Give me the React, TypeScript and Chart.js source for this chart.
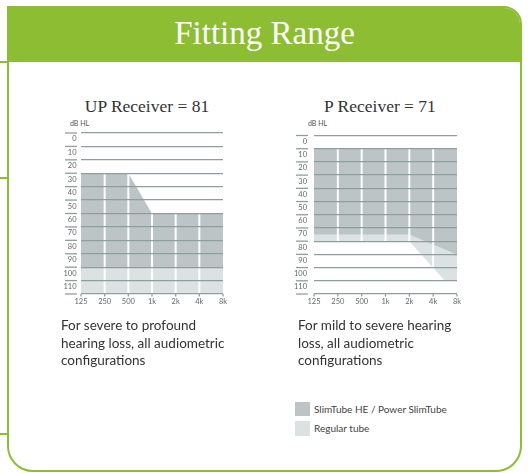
import React, { useEffect, useRef } from 'react';
import { Chart, registerables } from 'chart.js';

Chart.register(...registerables);

// ---------- data ----------
const freqs = [125, 250, 500, 1000, 2000, 4000, 8000];
const freqLabels = ['125', '250', '500', '1k', '2k', '4k', '8k'];
const dbTicks = [0, 10, 20, 30, 40, 50, 60, 70, 80, 90, 100, 110, 120];
const dbLabels = ['0', '10', '20', '30', '40', '50', '60', '70', '80', '90', '100', '110', ''];

// UP Receiver = 81
const upSlimTop = [30, 30, 30, 60, 60, 60, 60];
const upSlimBottom = 100;
const upRegularBottom = 120;

// P Receiver = 71
const pTop = 10;
const pSlimFreqs = [125, 250, 500, 1000, 2000, 8000];
const pSlimBottom = [75, 75, 75, 75, 75, 90];
const pRegFreqs = [125, 250, 500, 1000, 2000, 5600, 8000];
const pRegBottom = [80, 80, 80, 80, 80, 110, 110];

// ---------- styles ----------
const GREEN = '#8cbd32';
const DARK = '#bcc4c5';
const LIGHT = '#dce2e2';
const GRID = '#8e9e9e';
const AXIS_TXT = '#666';
const SANS = 'Lato, "Open Sans", sans-serif';
const SERIF = '"Liberation Serif", "DejaVu Serif", serif';

const decoPlugin = {
  id: 'deco',
  afterDatasetsDraw(chart: any) {
    const { ctx, chartArea, scales } = chart;
    const x = scales.x;
    ctx.save();
    ctx.globalCompositeOperation = 'source-atop';
    ctx.strokeStyle = '#ffffff';
    ctx.lineWidth = 2;
    freqs.slice(1, -1).forEach((f) => {
      const px = x.getPixelForValue(f);
      ctx.beginPath();
      ctx.moveTo(px, chartArea.top);
      ctx.lineTo(px, chartArea.bottom);
      ctx.stroke();
    });
    ctx.restore();
  },
  afterDraw(chart: any, _args: any, opts: any) {
    const { ctx, chartArea, scales } = chart;
    const x = scales.x;
    const y = scales.y;
    ctx.save();
    ctx.strokeStyle = GRID;
    ctx.lineWidth = 1.3;
    dbTicks.forEach((v) => {
      const py = y.getPixelForValue(v);
      ctx.beginPath();
      ctx.moveTo(chartArea.left - opts.segFrom, py);
      ctx.lineTo(chartArea.left - opts.segTo, py);
      ctx.stroke();
    });
    freqs.forEach((f) => {
      const px = x.getPixelForValue(f);
      ctx.beginPath();
      ctx.moveTo(px, chartArea.bottom);
      ctx.lineTo(px, chartArea.bottom + 2.5);
      ctx.stroke();
    });
    ctx.restore();
  },
};

type AudiogramProps = {
  datasets: any[];
  left: number;
  top: number;
  width: number;
  height: number;
  labelPad: number;
  segFrom: number;
  segTo: number;
};

function Audiogram({ datasets, left, top, width, height, labelPad, segFrom, segTo }: AudiogramProps) {
  const ref = useRef<HTMLCanvasElement | null>(null);
  useEffect(() => {
    if (!ref.current) return;
    const chart = new Chart(ref.current, {
      type: 'line',
      data: { datasets },
      options: {
        animation: false,
        responsive: false,
        maintainAspectRatio: false,
        devicePixelRatio: 1,
        layout: { padding: { left: 0, right: 9, top: 8, bottom: 14 } },
        elements: { point: { radius: 0 }, line: { borderWidth: 0, tension: 0 } },
        plugins: {
          legend: { display: false },
          tooltip: { enabled: false },
          deco: { segFrom, segTo },
        } as any,
        scales: {
          x: {
            type: 'logarithmic',
            min: 125,
            max: 8000,
            afterBuildTicks: (s: any) => {
              s.ticks = freqs.map((v) => ({ value: v }));
            },
            afterFit: (s: any) => {
              s.height = 16;
            },
            ticks: {
              autoSkip: false,
              maxRotation: 0,
              minRotation: 0,
              padding: 3,
              color: AXIS_TXT,
              font: { family: SANS, size: 7.5 },
              callback: (v: any) => {
                const i = freqs.indexOf(Number(v));
                return i >= 0 ? freqLabels[i] : '';
              },
            },
            grid: { display: false, drawTicks: false },
            border: { display: false },
          },
          y: {
            type: 'linear',
            reverse: true,
            min: 0,
            max: 120,
            afterBuildTicks: (s: any) => {
              s.ticks = dbTicks.map((v) => ({ value: v }));
            },
            afterFit: (s: any) => {
              s.width = 24;
            },
            ticks: {
              autoSkip: false,
              labelOffset: 6,
              padding: labelPad,
              color: AXIS_TXT,
              font: { family: SANS, size: 7.5 },
              callback: (v: any) => {
                const i = dbTicks.indexOf(Number(v));
                return i >= 0 ? dbLabels[i] : '';
              },
            },
            grid: { color: GRID, lineWidth: 1.3, drawTicks: false, z: 1 },
            border: { display: false },
          },
        } as any,
      },
      plugins: [decoPlugin as any],
    });
    return () => chart.destroy();
  }, []);
  return (
    <canvas
      ref={ref}
      width={width}
      height={height}
      style={{ position: 'absolute', left, top, width, height }}
    />
  );
}

const upDatasets = [
  {
    label: 'SlimTube HE / Power SlimTube',
    data: freqs.map((f, i) => ({ x: f, y: upSlimTop[i] })),
    backgroundColor: DARK,
    borderWidth: 0,
    fill: { value: upSlimBottom },
  },
  {
    label: 'Regular tube',
    data: freqs.map((f) => ({ x: f, y: upSlimBottom })),
    backgroundColor: LIGHT,
    borderWidth: 0,
    fill: { value: upRegularBottom },
  },
];

const pDatasets = [
  {
    label: 'SlimTube HE / Power SlimTube',
    data: pSlimFreqs.map((f, i) => ({ x: f, y: pSlimBottom[i] })),
    backgroundColor: DARK,
    borderWidth: 0,
    fill: { value: pTop },
  },
  {
    label: 'Regular tube',
    data: pRegFreqs.map((f, i) => ({ x: f, y: pRegBottom[i] })),
    backgroundColor: LIGHT,
    borderWidth: 0,
    fill: { value: pTop },
  },
];

const abs = (extra: React.CSSProperties): React.CSSProperties => ({ position: 'absolute', ...extra });

export default function App() {
  return (
    <div
      style={abs({
        left: 0,
        top: 0,
        width: 529,
        height: 473,
        background: '#fff',
        overflow: 'hidden',
        fontFamily: SANS,
        color: '#333',
      })}
    >
      {[62, 178, 434].map((y) => (
        <div key={y} style={abs({ left: 0, top: y - 1, width: 9, height: 2, background: GREEN })} />
      ))}
      <div
        style={abs({
          left: 7,
          top: 6,
          width: 515,
          height: 466,
          boxSizing: 'border-box',
          border: `2px solid ${GREEN}`,
          borderRadius: '0 18px 26px 26px',
          overflow: 'hidden',
          background: '#fff',
        })}
      >
        <div
          style={{
            height: 54,
            background: GREEN,
            color: '#fff',
            fontFamily: SERIF,
            fontSize: 33,
            lineHeight: '50px',
            textAlign: 'center',
          }}
        >
          Fitting Range
        </div>
      </div>

      <div style={abs({ left: 62, top: 96, width: 170, textAlign: 'center', fontFamily: SERIF, fontSize: 17.5, lineHeight: '20px', color: '#333' })}>
        UP Receiver = 81
      </div>
      <div style={abs({ left: 295, top: 96, width: 170, textAlign: 'center', fontFamily: SERIF, fontSize: 17.5, lineHeight: '20px', color: '#333' })}>
        P Receiver = 71
      </div>

      <div style={abs({ left: 70, top: 118, fontSize: 7, lineHeight: '10px', color: '#555' })}>dB HL</div>
      <div style={abs({ left: 308, top: 118, fontSize: 7, lineHeight: '10px', color: '#555' })}>dB HL</div>

      <Audiogram datasets={upDatasets} left={57} top={124} width={175} height={200} labelPad={4.5} segFrom={16} segTo={4} />
      <Audiogram datasets={pDatasets} left={290} top={124} width={176} height={200} labelPad={7} segFrom={18} segTo={6} />

      <div style={abs({ left: 61, top: 317, width: 220, fontSize: 13.5, lineHeight: '17.5px', color: '#333' })}>
        For severe to profound
        <br />
        hearing loss, all audiometric
        <br />
        configurations
      </div>
      <div style={abs({ left: 298, top: 317, width: 220, fontSize: 13.5, lineHeight: '17.5px', color: '#333' })}>
        For mild to severe hearing
        <br />
        loss, all audiometric
        <br />
        configurations
      </div>

      <div style={abs({ left: 295, top: 402, width: 15, height: 14, background: DARK })} />
      <div style={abs({ left: 314, top: 402, fontSize: 10, lineHeight: '14px', color: '#444' })}>SlimTube HE / Power SlimTube</div>
      <div style={abs({ left: 295, top: 421, width: 15, height: 15, background: LIGHT })} />
      <div style={abs({ left: 314, top: 421, fontSize: 10, lineHeight: '14px', color: '#444' })}>Regular tube</div>
    </div>
  );
}
